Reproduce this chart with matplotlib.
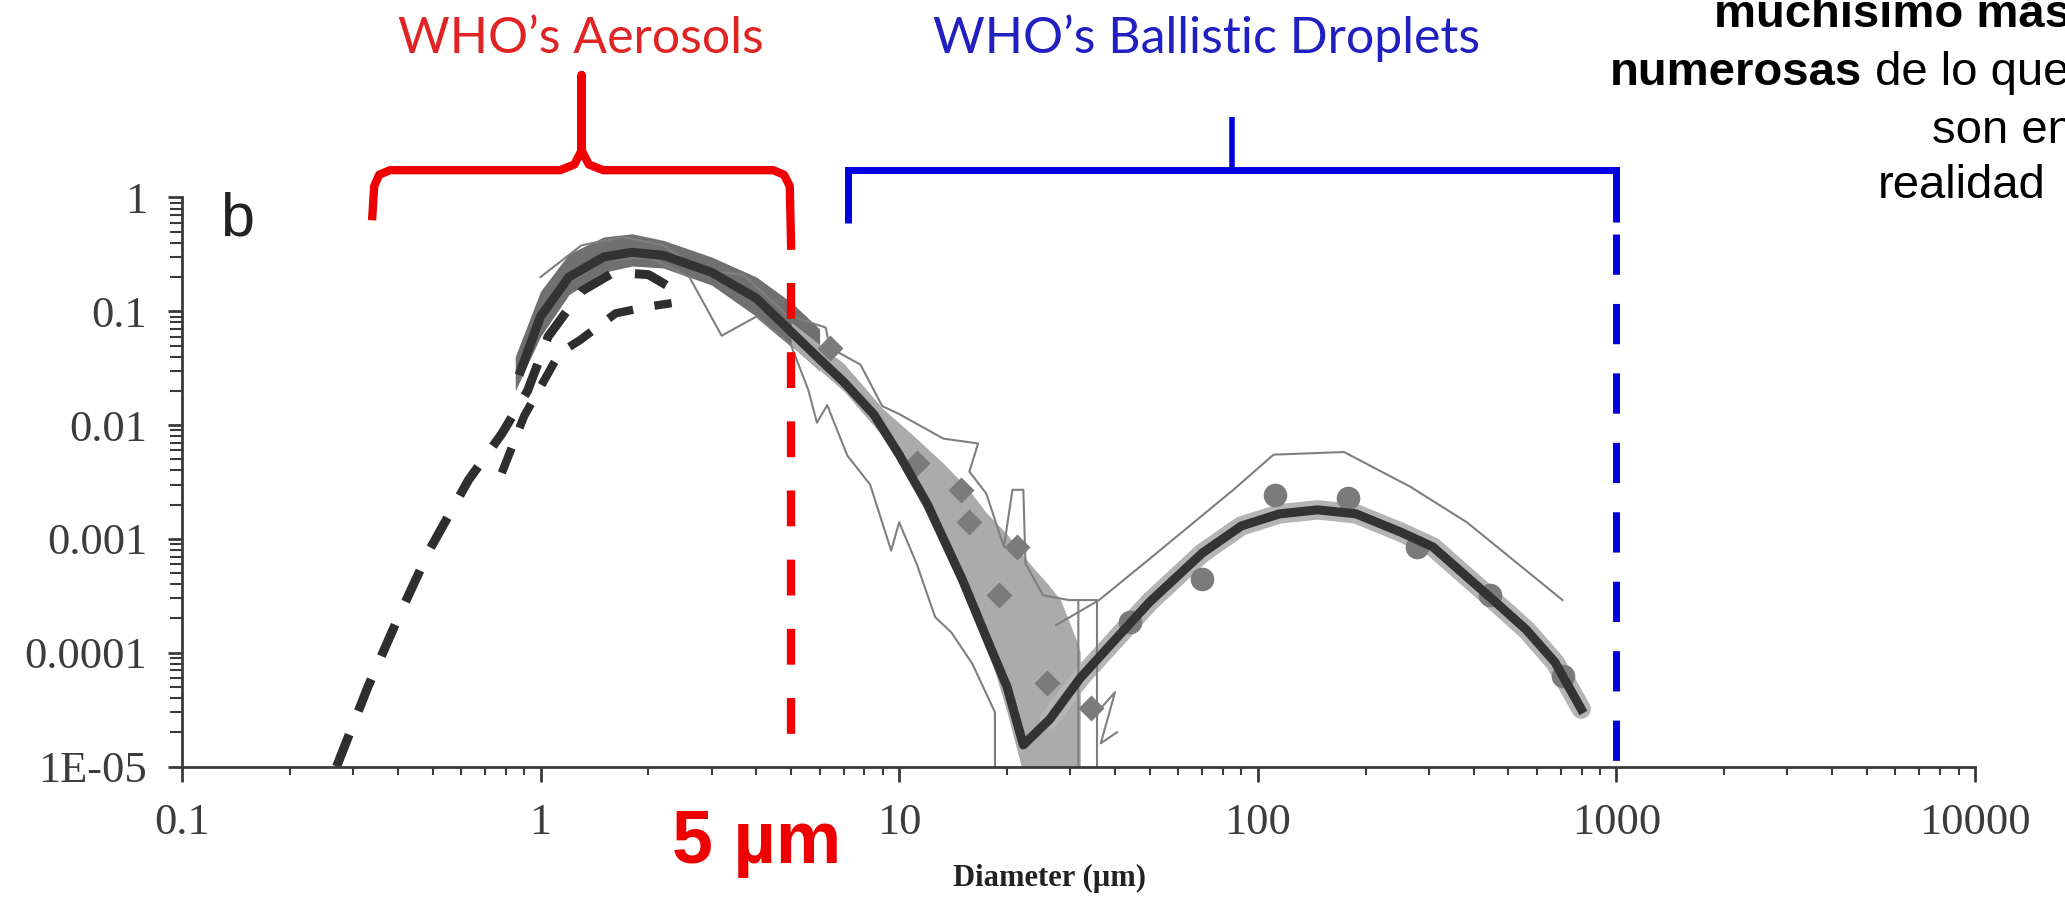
import matplotlib.pyplot as plt
import numpy as np
from matplotlib.ticker import FixedLocator, FixedFormatter, LogLocator, NullFormatter

plt.rcParams['font.family'] = ['Liberation Serif', 'DejaVu Serif']

# ---------------------------------------------------------------
# values (diameter in um, normalised count)
# ---------------------------------------------------------------
# thick fitted curve, both modes
fit_d = [0.88, 1.0, 1.2, 1.5, 1.8, 2.2, 3.0, 4.0, 5.0, 6.0, 7.0, 8.5, 10, 12, 15, 18, 20,
         22.2, 26.3, 32, 40, 50, 70, 90, 115, 147, 188, 250, 308, 443, 560, 675, 798]
fit_n = [0.03, 0.09, 0.2, 0.3, 0.33, 0.31, 0.22, 0.13, 0.066, 0.038, 0.024, 0.0124, 0.0055,
         0.002, 4.4e-4, 1.1e-4, 5e-5, 1.55e-5, 2.6e-5, 6e-5, 1.3e-4, 2.8e-4, 7.5e-4, 1.3e-3,
         1.66e-3, 1.8e-3, 1.66e-3, 1.15e-3, 8.5e-4, 3.1e-4, 1.6e-4, 8.2e-5, 3.2e-5]

# dashed model curves
dash_a_d = [0.27, 0.33, 0.40, 0.49, 0.63, 0.78, 0.92, 1.05, 1.3, 1.6, 2.0, 2.4]
dash_a_n = [1e-5, 5e-5, 2e-4, 8e-4, 3.3e-3, 8.4e-3, 0.02, 0.06, 0.15, 0.22, 0.21, 0.15]
dash_b_d = [0.78, 0.9, 1.13, 1.29, 1.62, 2.0, 2.32]
dash_b_n = [3.8e-3, 0.012, 0.043, 0.056, 0.096, 0.11, 0.118]

# noisy measured traces
trace1_d = [1.0, 1.3, 1.7, 2.2, 2.78, 3.67, 4.86, 6.24, 6.4, 7.8, 8.97, 10, 13.3, 16.6, 15.7,
            17.5, 19.6, 20.7, 22.2, 22.5, 25.2, 29.8, 31.6, 31.6]
trace1_n = [0.2, 0.38, 0.45, 0.38, 0.23, 0.21, 0.093, 0.072, 0.048, 0.034, 0.0147, 0.0125,
            0.0076, 0.0069, 0.0039, 0.0025, 8.5e-4, 2.7e-3, 2.7e-3, 6.1e-4, 3.2e-4, 2.9e-4,
            2.9e-4, 5e-6]
trace2_d = [1.1, 1.5, 2.0, 2.6, 3.2, 4.0, 5.0, 5.58, 5.9, 6.3, 7.17, 8.3, 9.5, 10.0, 11.2,
            12.6, 14.0, 16.0, 18.5, 18.5]
trace2_n = [0.15, 0.28, 0.3, 0.2, 0.061, 0.09, 0.05, 0.0204, 0.0105, 0.015, 0.0054, 0.003,
            7.9e-4, 1.4e-3, 6e-4, 2.06e-4, 1.5e-4, 8e-5, 3e-5, 5e-6]
trace3_d = [31.6, 35.7, 35.7]
trace3_n = [2.9e-4, 2.9e-4, 5e-6]
trace4_d = [35.7, 40, 36.5, 40.5]
trace4_n = [3e-5, 4.5e-5, 1.6e-5, 2e-5]
trace5_d = [27.4, 36.1, 50, 85.5, 110.7, 174, 265, 383, 708]
trace5_n = [1.75e-4, 2.9e-4, 6.7e-4, 2.7e-3, 5.5e-3, 5.8e-3, 2.9e-3, 1.4e-3, 2.9e-4]

# grey envelopes
band1_d = [0.85, 1.0, 1.2, 1.5, 1.8, 2.2, 3.0, 4.0, 5.0, 6.0]
band1_hi = [0.04, 0.15, 0.32, 0.45, 0.48, 0.42, 0.3, 0.2, 0.12, 0.07]
band1_lo = [0.02, 0.06, 0.14, 0.22, 0.25, 0.24, 0.17, 0.09, 0.05, 0.03]
band2_d = [5, 7, 9, 11, 13.3, 15.5, 17.5, 20, 23.2, 26, 28.2, 31.5, 32]
band2_hi = [0.08, 0.035, 0.014, 0.008, 0.0046, 0.0028, 0.0017, 0.0011, 6e-4, 4e-4, 2.9e-4,
            1.2e-4, 1e-4]
band2_lo = [0.05, 0.02, 0.008, 0.003, 0.0012, 4e-4, 1.2e-4, 3e-5, 5e-6, 5e-6, 5e-6, 5e-6, 5e-6]

# markers
circ_d = [44, 70, 112, 179, 278, 443, 708]
circ_n = [1.87e-4, 4.4e-4, 2.43e-3, 2.27e-3, 8.5e-4, 3.2e-4, 6.2e-5]
diam_d = [6.4, 11.2, 14.9, 15.7, 19.0, 21.3, 25.9, 34.2]
diam_n = [0.048, 4.6e-3, 2.7e-3, 1.4e-3, 3.2e-4, 8.5e-4, 5.4e-5, 3.3e-5]

# axes
x_ticks = [0.1, 1, 10, 100, 1000, 10000]
x_tick_labels = ['0.1', '1', '10', '100', '1000', '10000']
y_ticks = [1e-5, 1e-4, 1e-3, 1e-2, 1e-1, 1]
y_tick_labels = ['1E-05', '0.0001', '0.001', '0.01', '0.1', '1']

# WHO size classes
aerosol_range = (0.339, 5.0)
droplet_range = (7.2, 1000.0)


# bracket above the plot: x in data, y in axes fraction
def drawBracket(ax, lo, hi, color, lw, stem, curly):
    tr = ax.get_xaxis_transform()
    L, H = np.log10(lo), np.log10(hi)
    M = (L + H) / 2
    h = 1.048
    if curly:
        xs = [L, L + 0.006, L + 0.02, L + 0.05, M - 0.06, M - 0.02, M, M, M, M + 0.02, M + 0.06,
              H - 0.05, H - 0.02, H - 0.004, H]
        ys = [0.96, 1.02, 1.04, h, h, h + 0.01, h + 0.035, stem, h + 0.035, h + 0.01, h, h,
              1.04, 1.02, 0.908]
        ax.plot(10 ** np.array(xs), ys, color=color, lw=lw, transform=tr, clip_on=False,
                solid_joinstyle='round', solid_capstyle='butt', zorder=6)
        start = 0.85
    else:
        ax.plot([lo, lo, hi, hi], [0.955, h, h, 0.957], color=color, lw=lw, transform=tr,
                clip_on=False, solid_joinstyle='miter', solid_capstyle='butt', zorder=6)
        ax.plot([10 ** M, 10 ** M], [h, stem], color=color, lw=lw * 0.8, transform=tr,
                clip_on=False, solid_capstyle='butt', zorder=6)
        start = 0.935
    return start


fig = plt.figure(figsize=(20.65, 9.08), dpi=100)
ax = fig.add_axes([0.0881, 0.1558, 0.8683, 0.6267])
ax.set_xscale('log')
ax.set_yscale('log')
ax.set_xlim(0.1, 10000)
ax.set_ylim(1e-5, 1)

# grey envelopes
ax.fill_between(band1_d, band1_lo, band1_hi, color='#707070', lw=0, zorder=1)
ax.fill_between(band2_d, band2_lo, band2_hi, color='#ababab', lw=0, zorder=1)
ax.plot(fit_d[18:], fit_n[18:], color='#b4b4b4', lw=14, solid_capstyle='round', zorder=1)

# noisy traces
for d, n in [(trace1_d, trace1_n), (trace2_d, trace2_n), (trace3_d, trace3_n),
             (trace4_d, trace4_n), (trace5_d, trace5_n)]:
    ax.plot(d, n, color='#7f7f7f', lw=1.5, zorder=2)

# markers
ax.plot(diam_d, diam_n, 'D', color='#7b7b7b', ms=13, mec='none', zorder=3)
ax.plot(circ_d, circ_n, 'o', color='#7b7b7b', ms=17, mec='none', zorder=3)

# dashed model curves
ax.plot(dash_a_d, dash_a_n, color='#2e2e2e', lw=6.5, dashes=(3.8, 2.8),
        dash_capstyle='butt', zorder=4)
ax.plot(dash_b_d, dash_b_n, color='#2e2e2e', lw=6, dashes=(3.2, 2.6),
        dash_capstyle='butt', zorder=4)

# fitted curve
ax.plot(fit_d, fit_n, color='#333333', lw=6.5, solid_joinstyle='round', zorder=5)

# WHO brackets
tr = ax.get_xaxis_transform()
s = drawBracket(ax, aerosol_range[0], aerosol_range[1], '#f00000', 6, 1.215, True)
ax.plot([aerosol_range[1]] * 2, [s, 0], color='#f00000', lw=6, dashes=(4.3, 4.0),
        dash_capstyle='butt', transform=tr, clip_on=False, zorder=7)
s = drawBracket(ax, droplet_range[0], droplet_range[1], '#0000e0', 5, 1.141, False)
ax.plot([droplet_range[1]] * 2, [s, 0], color='#0000e0', lw=5, dashes=(5.8, 4.2),
        dash_capstyle='butt', transform=tr, clip_on=False, zorder=7)

# axes style
for side in ['top', 'right']:
    ax.spines[side].set_visible(False)
for side in ['left', 'bottom']:
    ax.spines[side].set_color('#3a3a3a')
    ax.spines[side].set_linewidth(2)
    ax.spines[side].set_zorder(8)

ax.xaxis.set_major_locator(FixedLocator(x_ticks))
ax.xaxis.set_major_formatter(FixedFormatter(x_tick_labels))
ax.xaxis.set_minor_locator(LogLocator(base=10, subs=np.arange(2, 10), numticks=20))
ax.xaxis.set_minor_formatter(NullFormatter())
ax.yaxis.set_major_locator(FixedLocator(y_ticks))
ax.yaxis.set_major_formatter(FixedFormatter(y_tick_labels))
ax.yaxis.set_minor_locator(LogLocator(base=10, subs=np.arange(2, 10), numticks=20))
ax.yaxis.set_minor_formatter(NullFormatter())

ax.tick_params(axis='both', which='major', direction='out', width=2, color='#3a3a3a',
               labelcolor='#3c3c3c', labelsize=32, pad=15)
ax.tick_params(axis='x', which='major', length=11)
ax.tick_params(axis='y', which='major', length=10)
ax.tick_params(axis='x', which='minor', direction='out', length=6, width=1.5, color='#3a3a3a')
ax.tick_params(axis='y', which='minor', direction='out', length=9, width=1.5, color='#3a3a3a')

ax.set_xlabel('Diameter (µm)', fontsize=22, fontweight='bold', color='#222222')
ax.xaxis.label.set_va('center')
ax.xaxis.set_label_coords(0.484, -0.196)

ax.text(0.0307, 0.96, 'b', transform=ax.transAxes, ha='center', va='center',
        family=['Liberation Sans', 'DejaVu Sans'], fontsize=44, color='#222222')

# annotations around the chart (figure pixels -> fractions)
W, Hh = 2065.0, 908.0
fig.text(581 / W, 1 - 53 / Hh, 'WHO’s Aerosols', ha='center', va='baseline',
         family=['Lato', 'DejaVu Sans'], fontsize=36, color='#e02424')
fig.text(1207 / W, 1 - 53 / Hh, 'WHO’s Ballistic Droplets', ha='center', va='baseline',
         family=['Lato', 'DejaVu Sans'], fontsize=36, color='#2020c0')
fig.text(757 / W, 1 - 843 / Hh, '5 µm', ha='center', va='center',
         family=['Liberation Sans', 'DejaVu Sans'], fontsize=53, fontweight='bold',
         color='#ee0000')

# text block at the top right, cut by the figure edge as in the original
sans = ['Liberation Sans', 'DejaVu Sans']
fig.text(1714 / W, 1 - 27 / Hh, 'muchísimo más', ha='left', va='baseline', family=sans,
         fontsize=34, fontweight='bold', color='black')
t1 = fig.text(1610 / W, 1 - 85 / Hh, 'numerosas', ha='left', va='baseline', family=sans,
              fontsize=34, fontweight='bold', color='black')
ax.annotate(' de lo que', xy=(1, 0), xycoords=t1, ha='left', va='bottom', family=sans,
            fontsize=34, color='black', annotation_clip=False)
fig.text(1932 / W, 1 - 143 / Hh, 'son en', ha='left', va='baseline', family=sans,
         fontsize=34, color='black')
fig.text(1878 / W, 1 - 198 / Hh, 'realidad', ha='left', va='baseline', family=sans,
         fontsize=34, color='black')

fig.savefig('out.png', dpi=100)
